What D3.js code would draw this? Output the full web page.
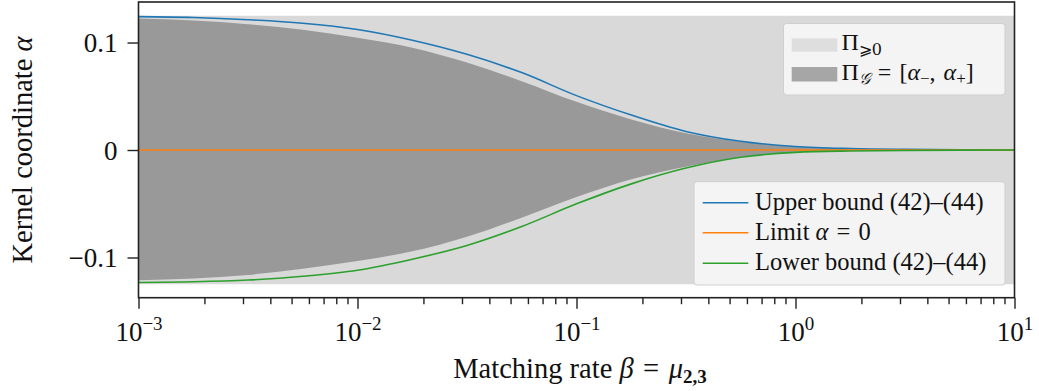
<!DOCTYPE html>
<html><head><meta charset="utf-8">
<script src="https://cdn.jsdelivr.net/npm/d3@7"></script>
<style>
html,body{margin:0;padding:0;background:#fff;}
text{font-family:"Liberation Serif","DejaVu Serif",serif;fill:#111;}
</style></head>
<body><svg id="c" width="1039" height="391"></svg>
<script>
// ---- data ----
const beta = [0.001, 0.00178, 0.00316, 0.00562, 0.01, 0.0178, 0.0316, 0.0562, 0.1, 0.178, 0.316, 0.562, 1, 1.78, 3.16, 5.62, 10];
const upperBound = [0.1241, 0.1233, 0.1212, 0.1179, 0.1121, 0.1021, 0.0890, 0.0720, 0.0506, 0.0325, 0.0173, 0.0081, 0.0033, 0.0014, 0.0006, 0.0002, 0.0000];
const lowerBound = [-0.1232, -0.1226, -0.1210, -0.1175, -0.1119, -0.1016, -0.0888, -0.0712, -0.0501, -0.0315, -0.0168, -0.0068, -0.0022, -0.0009, -0.0004, -0.0001, 0.0000];
const alphaPlus = [0.1223, 0.1204, 0.1170, 0.1119, 0.1044, 0.0952, 0.0813, 0.0640, 0.0448, 0.0284, 0.0156, 0.0078, 0.0032, 0.0014, 0.0006, 0.0002, 0.0000];
const alphaMinus = [-0.1212, -0.1196, -0.1162, -0.1104, -0.1033, -0.0942, -0.0806, -0.0630, -0.0437, -0.0271, -0.0155, -0.0064, -0.0021, -0.0009, -0.0004, -0.0001, 0.0000];
const limitAlpha = [0, 0, 0, 0, 0, 0, 0, 0, 0, 0, 0, 0, 0, 0, 0, 0, 0];
const positiveBand = [-0.125, 0.125];
const xMajorTicks = [0.001, 0.01, 0.1, 1, 10];
const xTickExponents = ["−3", "−2", "−1", "0", "1"];
const yTicks = [-0.1, 0, 0.1];
const yTickLabels = ["−0.1", "0", "0.1"];

// ---- layout ----
const svg = d3.select("#c");
const L = 138.5, R = 1014.5, T = 2, B = 297.7;
const x = d3.scaleLog().domain([0.001, 10]).range([L, R]);
const y = d3.scaleLinear().domain([-0.1374, 0.1377]).range([B, T]);

const idx = d3.range(beta.length);

// band
svg.append("path")
  .attr("fill", "#d9d9d9")
  .attr("d", d3.area().x(d => x(d)).y0(y(positiveBand[0])).y1(y(positiveBand[1]))(beta));

// dark region
svg.append("path")
  .attr("fill", "#999999")
  .attr("d", d3.area().curve(d3.curveMonotoneX)
    .x(i => x(beta[i])).y0(i => y(alphaMinus[i])).y1(i => y(alphaPlus[i]))(idx));

const line = arr => d3.line().curve(d3.curveMonotoneX).x(i => x(beta[i])).y(i => y(arr[i]))(idx);
svg.append("path").attr("d", line(upperBound)).attr("fill", "none").attr("stroke", "#1f77b4").attr("stroke-width", 1.6);
svg.append("path").attr("d", line(limitAlpha)).attr("fill", "none").attr("stroke", "#ff7f0e").attr("stroke-width", 1.6);
svg.append("path").attr("d", line(lowerBound)).attr("fill", "none").attr("stroke", "#2ca02c").attr("stroke-width", 1.6);

// ---- legends ----
function roundBox(x0, y0, w, h) {
  svg.append("rect").attr("x", x0).attr("y", y0).attr("width", w).attr("height", h)
    .attr("rx", 3).attr("fill", "#f6f6f6").attr("fill-opacity", 0.9).attr("stroke", "#cfcfcf").attr("stroke-width", 1);
}
// upper legend
roundBox(783.5, 23.5, 221.5, 71.5);
svg.append("rect").attr("x", 791.7).attr("y", 38.3).attr("width", 45.6).attr("height", 13.4).attr("fill", "#dedede");
svg.append("rect").attr("x", 791.7).attr("y", 67).attr("width", 45.6).attr("height", 14.5).attr("fill", "#a6a6a6");
const lg1 = svg.append("text").attr("x", 841.5).attr("y", 49.5).style("font-size", "24px");
lg1.append("tspan").text("Π");
lg1.append("tspan").attr("dy", 5).style("font-size", "16px").style("font-family", "DejaVu Serif").text("⩾0");
const lg2 = svg.append("text").attr("x", 841.5).attr("y", 80).style("font-size", "24px");
lg2.append("tspan").text("Π");
lg2.append("tspan").attr("dy", 4).style("font-size", "16px").style("font-style", "italic").text("𝒢");
lg2.append("tspan").attr("dy", -4).text("\u2004=\u2004[");
lg2.append("tspan").style("font-style", "italic").text("α");
lg2.append("tspan").attr("dy", 4).style("font-size", "17px").text("−");
lg2.append("tspan").attr("dy", -4).text(",\u2004");
lg2.append("tspan").style("font-style", "italic").text("α");
lg2.append("tspan").attr("dy", 4).style("font-size", "17px").text("+");
lg2.append("tspan").attr("dy", -4).text("]");

// lower legend
roundBox(694, 181.7, 311, 103.3);
const legLines = [{c: "#1f77b4", yy: 202.7}, {c: "#ff7f0e", yy: 232.7}, {c: "#2ca02c", yy: 263.3}];
legLines.forEach(o => svg.append("line").attr("x1", 702.7).attr("x2", 748.3).attr("y1", o.yy).attr("y2", o.yy)
  .attr("stroke", o.c).attr("stroke-width", 1.6));
svg.append("text").attr("x", 755).attr("y", 209.5).style("font-size", "24.5px").text("Upper bound (42)–(44)");
const lim = svg.append("text").attr("x", 755).attr("y", 239.5).style("font-size", "24.5px");
lim.append("tspan").text("Limit ");
lim.append("tspan").style("font-style", "italic").text("α");
lim.append("tspan").text("\u2004=\u20040");
svg.append("text").attr("x", 755).attr("y", 270).style("font-size", "24.5px").text("Lower bound (42)–(44)");

// ---- axes ----
svg.append("rect").attr("x", L).attr("y", T).attr("width", R - L).attr("height", B - T)
  .attr("fill", "none").attr("stroke", "#222").attr("stroke-width", 1.6);

const minors = [];
for (let e = -3; e < 1; e++) for (let m = 2; m <= 9; m++) minors.push(m * Math.pow(10, e));

const gxMinor = svg.append("g").attr("transform", `translate(0,${B})`)
  .call(d3.axisBottom(x).tickValues(minors).tickSize(6.5).tickFormat(() => ""));
const gx = svg.append("g").attr("transform", `translate(0,${B})`)
  .call(d3.axisBottom(x).tickValues(xMajorTicks).tickSize(11).tickFormat(() => ""));
[gxMinor, gx].forEach(g => {
  g.select(".domain").remove();
  g.selectAll(".tick line").attr("stroke", "#222").attr("stroke-width", 1.4);
});
gx.selectAll(".tick").each(function(d, i) {
  const t = d3.select(this).append("text").attr("y", 43).attr("text-anchor", "middle")
    .style("font-size", "27px").attr("fill", "#111");
  t.append("tspan").text("10");
  t.append("tspan").attr("dy", -11).style("font-size", "19px").text(xTickExponents[i]);
});

const gy = svg.append("g").attr("transform", `translate(${L},0)`)
  .call(d3.axisLeft(y).tickValues(yTicks).tickSize(11).tickPadding(10).tickFormat((d, i) => yTickLabels[i]));
gy.select(".domain").remove();
gy.selectAll(".tick line").attr("stroke", "#222").attr("stroke-width", 1.4);
gy.selectAll(".tick text").style("font-size", "27px").attr("fill", "#111")
  .style("font-family", "Liberation Serif").attr("dy", "0.35em");

// axis labels
const xl = svg.append("text").attr("x", 580).attr("y", 378).attr("text-anchor", "middle").style("font-size", "28.5px");
xl.append("tspan").text("Matching rate ");
xl.append("tspan").style("font-style", "italic").text("β");
xl.append("tspan").text("\u2004=\u2004");
xl.append("tspan").style("font-style", "italic").text("μ");
xl.append("tspan").attr("dy", 5).style("font-size", "19px").style("font-weight", "bold").text("2,3");

const yl = svg.append("text").attr("transform", "translate(32,150) rotate(-90)").attr("text-anchor", "middle").style("font-size", "28.5px");
yl.append("tspan").text("Kernel coordinate ");
yl.append("tspan").style("font-style", "italic").text("α");
</script></body></html>
